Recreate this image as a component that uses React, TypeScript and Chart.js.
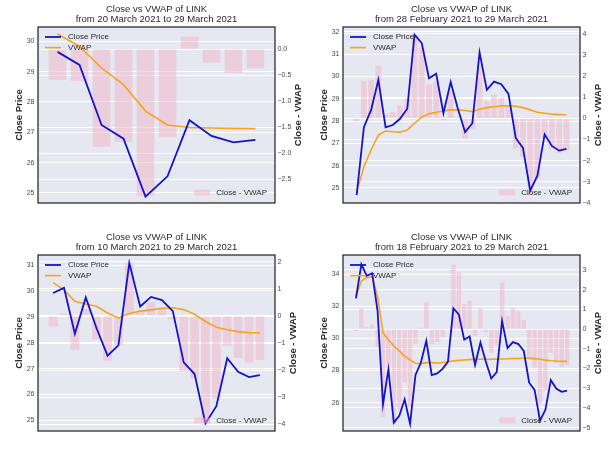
import React, { useEffect, useRef } from "react";
import { Chart, registerables } from "chart.js";

Chart.register(...registerables);

const FAMILY = "'Liberation Sans', Arial, Helvetica, sans-serif";

// Daily close of LINK, 18 February 2021 .. 29 March 2021 (40 days)
const CLOSE = [
  32.5, 34.62, 33.9, 34.06, 31.7, 25.9, 28.07, 24.75, 25.17, 26.2,
  24.68, 27.72, 28.5, 29.85, 27.72, 27.82, 28.1, 28.55, 31.88, 31.5,
  29.92, 30.12, 28.35, 29.75, 28.55, 27.5, 27.9, 31.08, 29.4, 29.77,
  29.65, 29.22, 27.24, 26.79, 24.88, 25.55, 27.4, 26.88, 26.67, 26.75,
];

// VWAP accumulated from each window's first day
const VWAP_20MAR = [30.24, 29.83, 29.12, 28.57, 27.7, 27.24, 27.16, 27.14, 27.13, 27.12];
const VWAP_28FEB = [
  24.82, 25.95, 26.7, 27.37, 27.55, 27.52, 27.5, 27.6, 27.9, 28.17,
  28.32, 28.39, 28.45, 28.5, 28.5, 28.47, 28.42, 28.53, 28.6, 28.64,
  28.68, 28.68, 28.66, 28.6, 28.5, 28.39, 28.35, 28.31, 28.29, 28.27,
];
const VWAP_10MAR = [
  30.32, 30.04, 29.6, 29.5, 29.41, 29.15, 28.96, 29.13, 29.22, 29.27,
  29.32, 29.35, 29.28, 29.1, 28.82, 28.6, 28.5, 28.43, 28.39, 28.38,
];
const VWAP_18FEB = [
  32.6, 33.58, 33.79, 33.85, 32.6, 30.36, 29.9, 29.53, 29.22, 28.9,
  28.66, 28.45, 28.43, 28.49, 28.49, 28.47, 28.5, 28.55, 28.6, 28.63,
  28.66, 28.68, 28.7, 28.7, 28.7, 28.7, 28.71, 28.72, 28.73, 28.74,
  28.75, 28.76, 28.76, 28.74, 28.7, 28.65, 28.61, 28.59, 28.58, 28.57,
];

// Tick labels
const LEFT_TICKS_20MAR = [25, 26, 27, 28, 29, 30];
const RIGHT_TICKS_20MAR = [0, -0.5, -1, -1.5, -2, -2.5];
const LEFT_TICKS_28FEB = [25, 26, 27, 28, 29, 30, 31, 32];
const RIGHT_TICKS_28FEB = [4, 3, 2, 1, 0, -1, -2, -3, -4];
const LEFT_TICKS_10MAR = [25, 26, 27, 28, 29, 30, 31];
const RIGHT_TICKS_10MAR = [2, 1, 0, -1, -2, -3, -4];
const LEFT_TICKS_18FEB = [26, 28, 30, 32, 34];
const RIGHT_TICKS_18FEB = [3, 2, 1, 0, -1, -2, -3, -4, -5];

// Axis limits
const LEFT_LIM_20MAR = [24.67, 30.47];
const RIGHT_LIM_20MAR = [-2.96, 0.424];
const LEFT_LIM_28FEB = [24.32, 32.22];
const RIGHT_LIM_28FEB = [-4.0, 4.32];
const LEFT_LIM_10MAR = [24.59, 31.39];
const RIGHT_LIM_10MAR = [-4.25, 2.25];
const LEFT_LIM_18FEB = [24.23, 35.2];
const RIGHT_LIM_18FEB = [-5.17, 3.76];

const SUBTITLES = [
  "from 20 March 2021 to 29 March 2021",
  "from 28 February 2021 to 29 March 2021",
  "from 10 March 2021 to 29 March 2021",
  "from 18 February 2021 to 29 March 2021",
];

const BLUE = "#1414c8";
const ORANGE = "#f7a41c";
const PINK = "rgba(242,180,198,0.5)";
const BG = "#e5e7f1";
const TEXT = "#2a2a2a";
const TICK = "#4a4a4a";
const TICK_SIZE = 7;

function fmt(dec: number) {
  return (v: number) => {
    const s = Math.abs(v) < 1e-9 ? (0).toFixed(dec) : Number(v).toFixed(dec);
    return s.replace("-", "\u2212");
  };
}

type PanelProps = {
  subtitle: string;
  close: number[];
  vwap: number[];
  leftLim: number[];
  rightLim: number[];
  leftTicks: number[];
  rightTicks: number[];
  rightDec: number;
  left: number;
  top: number;
};

function Panel(p: PanelProps) {
  const ref = useRef<HTMLCanvasElement>(null);
  useEffect(() => {
    const n = p.close.length;
    const diff = p.close.map((c, i) => c - p.vwap[i]);
    const margin = 0.05 * (n - 1 + 0.8);
    const rightFmt = fmt(p.rightDec);

    const overlay = {
      id: "overlay",
      beforeDraw(chart: any) {
        const { ctx, chartArea: a, width, height } = chart;
        ctx.save();
        ctx.fillStyle = "#ffffff";
        ctx.fillRect(0, 0, width, height);
        ctx.fillStyle = BG;
        ctx.fillRect(a.left, a.top, a.right - a.left, a.bottom - a.top);
        ctx.restore();
      },
      afterDraw(chart: any) {
        const { ctx, chartArea: a } = chart;
        ctx.save();
        // frame
        ctx.strokeStyle = "#1e1e1e";
        ctx.lineWidth = 1.2;
        ctx.strokeRect(a.left, a.top, a.right - a.left, a.bottom - a.top);
        const cx = (a.left + a.right) / 2;
        const cy = (a.top + a.bottom) / 2;
        // title
        ctx.fillStyle = TEXT;
        ctx.textAlign = "center";
        ctx.textBaseline = "middle";
        ctx.font = `9.5px ${FAMILY}`;
        ctx.fillText("Close vs VWAP of LINK", cx, a.top - 17.8);
        ctx.fillText(p.subtitle, cx, a.top - 7.3);
        // axis titles
        ctx.font = `bold 9.5px ${FAMILY}`;
        ctx.save();
        ctx.translate(19, cy);
        ctx.rotate(-Math.PI / 2);
        ctx.fillText("Close Price", 0, 0);
        ctx.restore();
        ctx.font = `${TICK_SIZE}px ${FAMILY}`;
        let maxW = 0;
        for (const t of p.rightTicks) maxW = Math.max(maxW, ctx.measureText(rightFmt(t)).width);
        ctx.font = `bold 9.5px ${FAMILY}`;
        ctx.save();
        ctx.translate(a.right + 2.5 + maxW + 7.5, cy);
        ctx.rotate(-Math.PI / 2);
        ctx.fillText("Close - VWAP", 0, 0);
        ctx.restore();
        // legend (lines), upper left
        ctx.font = `8px ${FAMILY}`;
        ctx.textAlign = "left";
        const rows: [string, string, number][] = [
          ["Close Price", BLUE, 1.8],
          ["VWAP", ORANGE, 1.6],
        ];
        rows.forEach(([label, color, lw], i) => {
          const y = a.top + 10 + i * 10.6;
          ctx.strokeStyle = color;
          ctx.lineWidth = lw;
          ctx.beginPath();
          ctx.moveTo(a.left + 7, y);
          ctx.lineTo(a.left + 23, y);
          ctx.stroke();
          ctx.fillStyle = TEXT;
          ctx.fillText(label, a.left + 30, y);
        });
        // legend (bars), lower right
        const lbl = "Close - VWAP";
        const tw = ctx.measureText(lbl).width;
        const ty = a.bottom - 10.5;
        const tx = a.right - 8 - tw;
        ctx.fillStyle = PINK;
        ctx.fillRect(tx - 22, ty - 2.8, 16, 5.6);
        ctx.fillStyle = TEXT;
        ctx.fillText(lbl, tx, ty);
        ctx.restore();
      },
    };

    const chart = new Chart(ref.current as HTMLCanvasElement, {
      type: "bar",
      data: {
        datasets: [
          {
            type: "line",
            label: "Close Price",
            data: p.close.map((y, x) => ({ x, y })),
            yAxisID: "y",
            borderColor: BLUE,
            borderWidth: 1.8,
            pointRadius: 0,
            tension: 0,
            order: 0,
          } as any,
          {
            type: "line",
            label: "VWAP",
            data: p.vwap.map((y, x) => ({ x, y })),
            yAxisID: "y",
            borderColor: ORANGE,
            borderWidth: 1.6,
            pointRadius: 0,
            tension: 0,
            order: 1,
          } as any,
          {
            type: "bar",
            label: "Close - VWAP",
            data: diff.map((y, x) => ({ x, y })),
            yAxisID: "y1",
            backgroundColor: PINK,
            borderWidth: 0,
            barPercentage: 0.8,
            categoryPercentage: 1,
            order: 2,
          } as any,
        ],
      },
      options: {
        animation: false,
        responsive: false,
        maintainAspectRatio: false,
        devicePixelRatio: window.devicePixelRatio || 1,
        layout: { padding: { top: 27, bottom: 25, left: 0, right: 0 } },
        plugins: {
          legend: { display: false },
          title: { display: false },
          tooltip: { enabled: false },
        },
        scales: {
          x: {
            type: "linear",
            display: false,
            offset: false,
            min: -0.4 - margin,
            max: n - 1 + 0.4 + margin,
          },
          y: {
            type: "linear",
            position: "left",
            min: p.leftLim[0],
            max: p.leftLim[1],
            afterBuildTicks: (s: any) => {
              s.ticks = p.leftTicks.map((v) => ({ value: v }));
            },
            afterFit: (s: any) => {
              s.width = 38;
            },
            grid: { color: "#ffffff", lineWidth: 1, drawTicks: false },
            border: { display: false },
            ticks: {
              color: TICK,
              padding: 3.5,
              font: { size: TICK_SIZE, family: FAMILY },
              callback: (v: any) => String(v),
            },
          },
          y1: {
            type: "linear",
            position: "right",
            min: p.rightLim[0],
            max: p.rightLim[1],
            afterBuildTicks: (s: any) => {
              s.ticks = p.rightTicks.map((v) => ({ value: v }));
            },
            afterFit: (s: any) => {
              s.width = 30;
            },
            grid: { color: "#ffffff", lineWidth: 1, drawTicks: false },
            border: { display: false },
            ticks: {
              color: TICK,
              padding: 2.5,
              font: { size: TICK_SIZE, family: FAMILY },
              callback: (v: any) => rightFmt(Number(v)),
            },
          },
        },
      } as any,
      plugins: [overlay],
    });
    return () => chart.destroy();
  }, []);
  return (
    <canvas
      ref={ref}
      width={305}
      height={228}
      style={{ position: "absolute", left: p.left, top: p.top, width: 305, height: 228 }}
    />
  );
}

export default function App() {
  return (
    <div style={{ position: "absolute", left: 0, top: 0, width: 610, height: 457, background: "#fff" }}>
      <Panel
        subtitle={SUBTITLES[0]}
        close={CLOSE.slice(30)}
        vwap={VWAP_20MAR}
        leftLim={LEFT_LIM_20MAR}
        rightLim={RIGHT_LIM_20MAR}
        leftTicks={LEFT_TICKS_20MAR}
        rightTicks={RIGHT_TICKS_20MAR}
        rightDec={1}
        left={0}
        top={0}
      />
      <Panel
        subtitle={SUBTITLES[1]}
        close={CLOSE.slice(10)}
        vwap={VWAP_28FEB}
        leftLim={LEFT_LIM_28FEB}
        rightLim={RIGHT_LIM_28FEB}
        leftTicks={LEFT_TICKS_28FEB}
        rightTicks={RIGHT_TICKS_28FEB}
        rightDec={0}
        left={305}
        top={0}
      />
      <Panel
        subtitle={SUBTITLES[2]}
        close={CLOSE.slice(20)}
        vwap={VWAP_10MAR}
        leftLim={LEFT_LIM_10MAR}
        rightLim={RIGHT_LIM_10MAR}
        leftTicks={LEFT_TICKS_10MAR}
        rightTicks={RIGHT_TICKS_10MAR}
        rightDec={0}
        left={0}
        top={228}
      />
      <Panel
        subtitle={SUBTITLES[3]}
        close={CLOSE}
        vwap={VWAP_18FEB}
        leftLim={LEFT_LIM_18FEB}
        rightLim={RIGHT_LIM_18FEB}
        leftTicks={LEFT_TICKS_18FEB}
        rightTicks={RIGHT_TICKS_18FEB}
        rightDec={0}
        left={305}
        top={228}
      />
    </div>
  );
}
